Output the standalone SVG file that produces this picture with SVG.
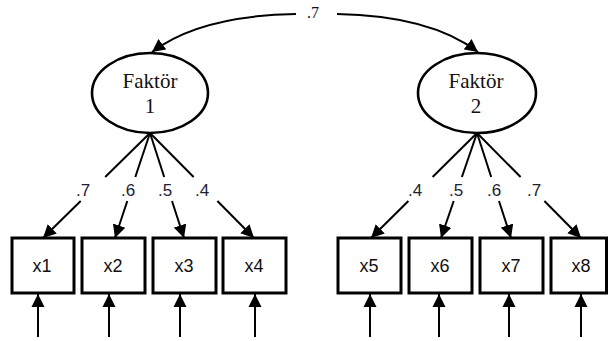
<svg xmlns="http://www.w3.org/2000/svg" width="608" height="341" viewBox="0 0 608 341">
<style>
.ell{fill:#fff;stroke:#000;stroke-width:2.6}
.box{fill:#fff;stroke:#000;stroke-width:3}
.ln{fill:none;stroke:#000;stroke-width:2}
.fk{font-family:"Liberation Serif","Times New Roman",serif;font-size:21px;fill:#111;text-anchor:middle}
.lb{font-family:"Liberation Sans",Arial,sans-serif;font-size:17px;fill:#1c2233;text-anchor:middle}
.vx{font-family:"Liberation Sans",Arial,sans-serif;font-size:18px;fill:#111;text-anchor:middle}
</style>
<defs>
<marker id="ah" markerUnits="userSpaceOnUse" markerWidth="14" markerHeight="14" viewBox="0 0 14 14" refX="13" refY="7" orient="auto">
<path d="M0,0.5 L13,7 L0,13.5 z" fill="#000"/>
</marker>
</defs>
<g id="connectors">
<path class="ln" d="M296,14 C235,15 185,27 152,52" marker-end="url(#ah)"/>
<path class="ln" d="M337,14 C395,15 445,27 478,52" marker-end="url(#ah)"/>
<text x="313" y="18" font-family="Liberation Serif,'Times New Roman',serif" font-size="16" fill="#111" text-anchor="middle">.7</text>
<line class="ln" x1="150" y1="133" x2="105.2" y2="177"/>
<line class="ln" x1="80.7" y1="201" x2="43" y2="238" marker-end="url(#ah)"/>
<line class="ln" x1="150" y1="133" x2="135.3" y2="177"/>
<line class="ln" x1="127.3" y1="201" x2="115" y2="238" marker-end="url(#ah)"/>
<line class="ln" x1="150" y1="133" x2="164.2" y2="177"/>
<line class="ln" x1="172" y1="201" x2="184" y2="238" marker-end="url(#ah)"/>
<line class="ln" x1="150" y1="133" x2="193.6" y2="177"/>
<line class="ln" x1="217.4" y1="201" x2="254" y2="238" marker-end="url(#ah)"/>
<line class="ln" x1="477" y1="133" x2="432.6" y2="177"/>
<line class="ln" x1="408.4" y1="201" x2="371" y2="238" marker-end="url(#ah)"/>
<line class="ln" x1="477" y1="133" x2="461.9" y2="177"/>
<line class="ln" x1="453.7" y1="201" x2="441" y2="238" marker-end="url(#ah)"/>
<line class="ln" x1="477" y1="133" x2="491.2" y2="177"/>
<line class="ln" x1="499" y1="201" x2="511" y2="238" marker-end="url(#ah)"/>
<line class="ln" x1="477" y1="133" x2="520.6" y2="177"/>
<line class="ln" x1="544.4" y1="201" x2="581" y2="238" marker-end="url(#ah)"/>
<text class="lb" x="83" y="196">.7</text>
<text class="lb" x="128" y="196">.6</text>
<text class="lb" x="165" y="196">.5</text>
<text class="lb" x="202" y="196">.4</text>
<text class="lb" x="415" y="196">.4</text>
<text class="lb" x="456" y="196">.5</text>
<text class="lb" x="494" y="196">.6</text>
<text class="lb" x="534" y="196">.7</text>
<line class="ln" x1="38" y1="337" x2="38" y2="294" marker-end="url(#ah)"/>
<line class="ln" x1="109" y1="337" x2="109" y2="294" marker-end="url(#ah)"/>
<line class="ln" x1="180" y1="337" x2="180" y2="294" marker-end="url(#ah)"/>
<line class="ln" x1="255" y1="337" x2="255" y2="294" marker-end="url(#ah)"/>
<line class="ln" x1="370" y1="337" x2="370" y2="294" marker-end="url(#ah)"/>
<line class="ln" x1="439" y1="337" x2="439" y2="294" marker-end="url(#ah)"/>
<line class="ln" x1="509" y1="337" x2="509" y2="294" marker-end="url(#ah)"/>
<line class="ln" x1="581" y1="337" x2="581" y2="294" marker-end="url(#ah)"/>
</g>
<g id="f1"><ellipse class="ell" cx="150" cy="93" rx="58" ry="40"/><text class="fk" x="150" y="88">Faktör</text><text class="fk" x="150" y="113">1</text></g>
<g id="f2"><ellipse class="ell" cx="477" cy="93" rx="59" ry="40"/><text class="fk" x="476" y="88">Faktör</text><text class="fk" x="476" y="113">2</text></g>
<g id="x1"><rect class="box" x="12" y="238" width="62" height="55"/><text class="vx" x="42" y="272">x1</text></g>
<g id="x2"><rect class="box" x="82" y="238" width="63" height="55"/><text class="vx" x="113" y="272">x2</text></g>
<g id="x3"><rect class="box" x="153" y="238" width="63" height="55"/><text class="vx" x="184" y="272">x3</text></g>
<g id="x4"><rect class="box" x="223" y="238" width="63" height="55"/><text class="vx" x="254" y="272">x4</text></g>
<g id="x5"><rect class="box" x="338" y="238" width="63" height="55"/><text class="vx" x="369" y="272">x5</text></g>
<g id="x6"><rect class="box" x="409" y="238" width="63" height="55"/><text class="vx" x="440" y="272">x6</text></g>
<g id="x7"><rect class="box" x="480" y="238" width="63" height="55"/><text class="vx" x="511" y="272">x7</text></g>
<g id="x8"><rect class="box" x="551" y="238" width="55.5" height="55"/><text class="vx" x="581" y="272">x8</text></g>
</svg>
